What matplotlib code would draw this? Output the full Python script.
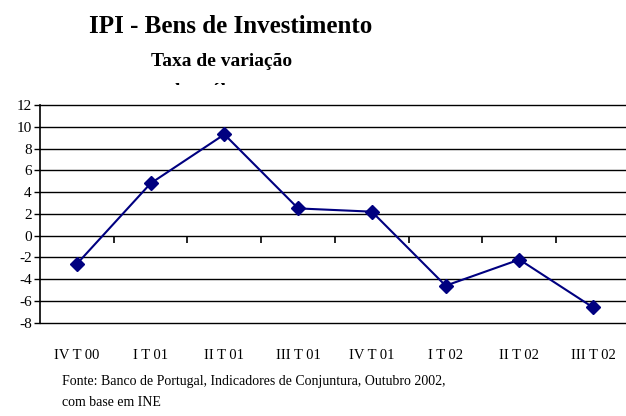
import matplotlib
matplotlib.use("Agg")
import matplotlib.pyplot as plt
from matplotlib.transforms import Bbox

# data
quarters = ["IV T 00", "I T 01", "II T 01", "III T 01", "IV T 01", "I T 02", "II T 02", "III T 02"]
taxa = [-2.6, 4.8, 9.3, 2.5, 2.2, -4.6, -2.2, -6.6]
y_ticks = list(range(-8, 13, 2))

W, H = 626, 416
plt.rcParams['font.family'] = ['Liberation Serif', 'DejaVu Serif']

fig = plt.figure(figsize=(W / 100, H / 100), dpi=100)

def fx(px):
    return px / W

def fy(py):
    return 1 - py / H

# plot area: left spine at x=40, 12 at y=105, -8 at y=322.7
ax = fig.add_axes([fx(40), fy(322.7), 590 / W, 217.7 / H])
ax.set_xlim(-0.5, len(quarters) - 0.5)
ax.set_ylim(-8, 12)

ax.plot(range(len(quarters)), taxa, color='#000080', lw=1.5,
        marker='D', markersize=7, zorder=3, clip_on=False)

ax.set_yticks(y_ticks)
ax.set_yticklabels([str(v) for v in y_ticks], fontsize=11)
ax.tick_params(axis='y', direction='out', length=4, width=1, pad=2)
ax.grid(axis='y', color='black', lw=1.0)
for gl in ax.get_ygridlines():
    gl.set_clip_on(False)
ax.set_axisbelow(True)

ax.set_xticks(range(len(quarters)))
ax.set_xticklabels(quarters, fontsize=10.5)
ax.tick_params(axis='x', length=0, pad=19)

for s in ['top', 'right', 'bottom']:
    ax.spines[s].set_visible(False)
ax.spines['left'].set_linewidth(1.2)

# category boundary ticks sitting on the zero line
sec = ax.secondary_xaxis(8 / 20)
sec.set_xticks([i + 0.5 for i in range(len(quarters) - 1)])
sec.set_xticklabels([])
sec.tick_params(axis='x', direction='out', length=5, width=1.2)
for s in sec.spines.values():
    s.set_visible(False)

# titles
fig.text(fx(231), fy(33), "IPI - Bens de Investimento", ha='center', va='baseline',
         fontsize=18, fontweight='bold')
fig.text(fx(222), fy(66), "Taxa de variação", ha='center', va='baseline',
         fontsize=14, fontweight='bold')
# third title line is mostly hidden behind the plot area in the original
third = fig.text(fx(215), fy(96), "homóloga", ha='center', va='baseline',
                 fontsize=14, fontweight='bold')
third.set_clip_box(Bbox.from_extents(0, H - 85, W, H))
third.set_clip_on(True)

# source
fig.text(fx(62), fy(381), "Fonte: Banco de Portugal, Indicadores de Conjuntura, Outubro 2002,",
         ha='left', va='center', fontsize=10)
fig.text(fx(62), fy(402), "com base em INE", ha='left', va='center', fontsize=10)

fig.savefig("out.png", dpi=100)
